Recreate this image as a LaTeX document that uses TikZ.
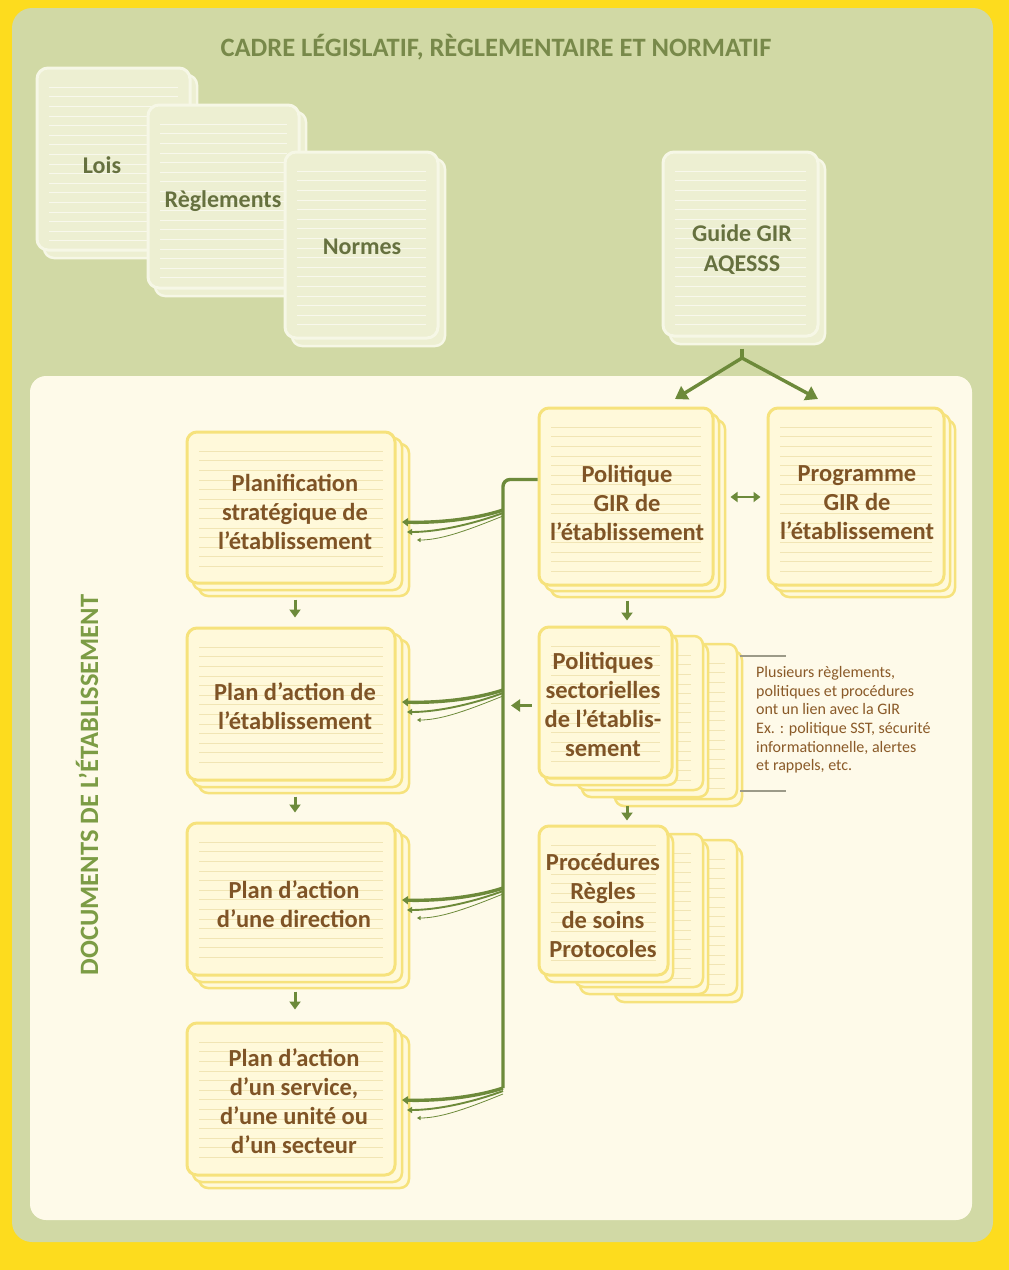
\documentclass[tikz,border=0pt]{standalone}
\usepackage{fontspec}
\setmainfont{Carlito}
\usetikzlibrary{arrows.meta,calc}
\definecolor{bgyel}{HTML}{FDDC1E}
\definecolor{panelG}{HTML}{D1D9A5}
\definecolor{panelC}{HTML}{FEFAE9}
\definecolor{gFill}{HTML}{EDEFD2}
\definecolor{gEdge}{HTML}{F6F7E6}
\definecolor{gRule}{HTML}{F8F8EC}
\definecolor{yFill}{HTML}{FFF9DA}
\definecolor{yEdge}{HTML}{F6E27C}
\definecolor{yRule}{HTML}{F1E5B4}
\definecolor{brownT}{HTML}{7F5426}
\definecolor{oliveT}{HTML}{66713F}
\definecolor{titleT}{HTML}{78894A}
\definecolor{vertT}{HTML}{7C9C45}
\definecolor{arrC}{HTML}{6D8A3A}
\definecolor{noteT}{HTML}{8A5A28}
\definecolor{noteL}{HTML}{9C9A88}
\tikzset{
  yrules/.style={path picture={\foreach \k in {2,...,#1}{\draw[line width=0.9pt, yRule] ([xshift=12pt,yshift=-\k*9.6pt]path picture bounding box.north west) -- ([xshift=-12pt,yshift=-\k*9.6pt]path picture bounding box.north east);}}},
  grules/.style={path picture={\foreach \k in {2,...,#1}{\draw[line width=0.9pt, gRule] ([xshift=12pt,yshift=-\k*9.6pt]path picture bounding box.north west) -- ([xshift=-12pt,yshift=-\k*9.6pt]path picture bounding box.north east);}}},
  yfront/.style={draw=yEdge, line width=3pt, fill=yFill, rounded corners=10pt, inner sep=0pt, yrules=#1},
  yback/.style={draw=yEdge, line width=2.5pt, fill=yFill, rounded corners=9pt},
  gfront/.style={draw=gEdge, line width=3pt, fill=gFill, rounded corners=11pt, inner sep=0pt, grules=#1},
  gback/.style={draw=gEdge, line width=2.5pt, fill=gFill, rounded corners=10pt},
  ylab/.style={text=brownT, font=\bfseries\fontsize{24.5}{29}\selectfont, align=center, inner sep=0pt},
  glab/.style={text=oliveT, font=\bfseries\fontsize{24}{30}\selectfont, align=center, inner sep=0pt},
  arr/.style={draw=arrC, line width=3pt, -{Triangle[length=8pt,width=11pt]}},
  fork/.style={draw=arrC, line width=3.4pt, -{Triangle[length=12pt,width=15pt]}},
  notetext/.style={text=noteT, font=\fontsize{16}{18.7}\selectfont, align=left, inner sep=0pt},
}
\newcommand\ybackpage[5][]{\draw[yback,#1] (#2,#3) rectangle (#4,#5);}
\newcommand\gbackpage[4]{\draw[gback] (#1,#2) rectangle (#3,#4);}
\newcommand\fanarr[1]{%
  \draw[arrC, line width=3.4pt, -{Triangle[length=6pt,width=8pt]}] (#1) .. controls ($(#1)+(-30,10)$) and ($(#1)+(-70,13)$) .. ($(#1)+(-101,12)$);
  \draw[arrC, line width=1.9pt, -{Triangle[length=5pt,width=6pt]}] ($(#1)+(0,3)$) .. controls ($(#1)+(-30,14)$) and ($(#1)+(-65,22)$) .. ($(#1)+(-96,22)$);
  \draw[arrC, line width=0.8pt, -{Triangle[length=3.5pt,width=4pt]}] ($(#1)+(0,6)$) .. controls ($(#1)+(-30,18)$) and ($(#1)+(-60,30)$) .. ($(#1)+(-86,30)$);
}
\begin{document}
\begin{tikzpicture}[x=1pt,y=-1pt]
\useasboundingbox (0,0) rectangle (1009,1270);
\fill[bgyel] (0,0) rectangle (1009,1270);
\fill[panelG, rounded corners=20pt] (12,8) rectangle (993,1242);
\fill[panelC, rounded corners=16pt] (30,376) rectangle (972,1220);

% title
\node[text=titleT, font=\bfseries\fontsize{26.5}{30}\selectfont] (title) at (496,47) {CADRE LÉGISLATIF, RÈGLEMENTAIRE ET NORMATIF};
\node[text=vertT, font=\bfseries\fontsize{26.5}{30}\selectfont, rotate=90] (vtitle) at (87,785) {DOCUMENTS DE L’ÉTABLISSEMENT};

% top green documents
\gbackpage{44}{75}{197}{258}
\node[gfront=18, minimum width=153pt, minimum height=182pt] (lois) at (113.5,159) {};
\node[glab] (loisT) at (102,165) {Lois};
\gbackpage{155}{112}{306}{296}
\node[gfront=18, minimum width=151pt, minimum height=183pt] (regl) at (223.5,196.5) {};
\node[glab] (reglT) at (223,201) {Règlements};
\gbackpage{292}{159}{445}{346}
\node[gfront=18, minimum width=153pt, minimum height=186pt] (norm) at (361.5,245) {};
\node[glab] (normT) at (362,247) {Normes};
\gbackpage{670}{159}{825}{344}
\node[gfront=18, minimum width=155pt, minimum height=184pt] (guide) at (740.5,244) {};
\node[glab] (guideT) at (742,250) {Guide GIR\\AQESSS};

% left column
\ybackpage{199}{444}{409}{596}
\ybackpage{193}{438}{402}{590}
\node[yfront=14, minimum width=208pt, minimum height=151pt] (plan1) at (291,507.5) {};
\node[ylab] (plan1T) at (295,512) {Planification\\stratégique de\\l’établissement};

\ybackpage{199}{640}{409}{793}
\ybackpage{193}{634}{402}{787}
\node[yfront=14, minimum width=208pt, minimum height=152pt] (plan2) at (291,704) {};
\node[ylab] (plan2T) at (295,706) {Plan d’action de\\l’établissement};

\ybackpage{199}{835}{409}{988}
\ybackpage{193}{829}{402}{982}
\node[yfront=14, minimum width=208pt, minimum height=152pt] (plan3) at (291,899) {};
\node[ylab] (plan3T) at (294,904) {Plan d’action\\d’une direction};

\ybackpage{199}{1035}{409}{1188}
\ybackpage{193}{1029}{402}{1182}
\node[yfront=14, minimum width=208pt, minimum height=152pt] (plan4) at (291,1099) {};
\node[ylab] (plan4T) at (294,1101) {Plan d’action\\d’un service,\\d’une unité ou\\d’un secteur};

% right column
\ybackpage{551}{420}{725}{597}
\ybackpage{545}{414}{719}{591}
\node[yfront=17, minimum width=174pt, minimum height=177pt] (pol) at (626,496.5) {};
\node[ylab] (polT) at (627,503) {Politique\\GIR de\\l’établissement};

\ybackpage{780}{420}{955}{597}
\ybackpage{774}{414}{950}{591}
\node[yfront=17, minimum width=176pt, minimum height=177pt] (prog) at (856,496.5) {};
\node[ylab] (progT) at (857,503) {Programme\\GIR de\\l’établissement};

\ybackpage{615}{651}{742}{806}
\ybackpage[yrules=15]{610}{644}{737}{799}
\ybackpage{582}{643}{708}{797}
\ybackpage[yrules=15]{577}{636}{703}{790}
\ybackpage{545}{634}{677}{785}
\node[yfront=14, minimum width=133pt, minimum height=151pt] (sect) at (605.5,702.5) {};
\node[ylab] (sectT) at (603,704.5) {Politiques\\sectorielles\\de l’établis-\\sement};

\ybackpage{615}{847}{742}{1002}
\ybackpage[yrules=15]{610}{840}{737}{995}
\ybackpage{580}{841}{708}{994}
\ybackpage[yrules=15]{575}{834}{703}{987}
\ybackpage{545}{833}{673}{982}
\node[yfront=14, minimum width=129pt, minimum height=149pt] (proc) at (603.5,900.5) {};
\node[ylab] (procT) at (603,905.5) {Procédures\\Règles\\de soins\\Protocoles};

% note
\draw[noteL, line width=1.6pt] (740,656) coordinate (nA) -- (786,656) coordinate (nB);
\draw[noteL, line width=1.6pt] (740,791) coordinate (nC) -- (786,791) coordinate (nD);
\node[notetext, anchor=north west] (note) at (756,666) {Plusieurs règlements,\\politiques et procédures\\ont un lien avec la GIR\\Ex. : politique SST, sécurité\\informationnelle, alertes\\et rappels, etc.};

% fork from guide
\coordinate (forkP) at (742,358);
\coordinate (polIn) at (675,399);
\coordinate (progIn) at (818,399);
\draw[arrC, line width=3.4pt] ([xshift=1.5pt,yshift=-11pt]guide.south) -- (forkP);
\draw[fork] (forkP) -- (polIn);
\draw[fork] (forkP) -- (progIn);

% double arrow
\draw[draw=arrC, line width=2.8pt, {Triangle[length=7pt,width=10pt]}-{Triangle[length=7pt,width=10pt]}] ([xshift=16pt,yshift=-0.5pt]pol.east) -- ([xshift=-6pt,yshift=-0.5pt]prog.west);

% down arrows
\draw[arr] ([xshift=4pt,yshift=-15pt]plan1.south) -- ([xshift=4pt,yshift=9pt]plan2.north);
\draw[arr] ([xshift=4pt,yshift=-15pt]plan2.south) -- ([xshift=4pt,yshift=9pt]plan3.north);
\draw[arr] ([xshift=4pt,yshift=-15pt]plan3.south) -- ([xshift=4pt,yshift=12pt]plan4.north);
\draw[arr] ([xshift=1pt,yshift=-14pt]pol.south) -- ([xshift=1pt,yshift=-34pt]pol.south);
\draw[arr] ([xshift=21.5pt,yshift=-26pt]sect.south) -- ([xshift=23.5pt,yshift=4pt]proc.north);

% bus
\coordinate (busTop) at (503,479.5);
\coordinate (J1) at (503,510);
\coordinate (J2) at (503,690);
\coordinate (J3) at (503,888);
\coordinate (J4) at (503,1088);
\draw[arrC, line width=3.4pt, rounded corners=7pt] ([yshift=17pt]pol.west) -- (busTop) -- (J4);
\fanarr{J1}
\fanarr{J2}
\fanarr{J3}
\fanarr{J4}
\draw[draw=arrC, line width=3.4pt, -{Triangle[length=9pt,width=12pt]}] ([xshift=-6pt,yshift=-3pt]sect.west) -- (511,705.5);
\end{tikzpicture}
\end{document}
